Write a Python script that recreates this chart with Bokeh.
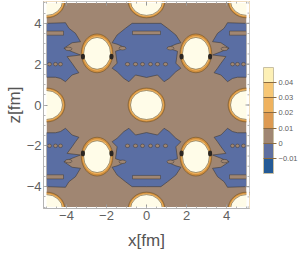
from bokeh.plotting import figure
from bokeh.models import Range1d, ColorBar, LinearColorMapper, FixedTicker
from bokeh.embed import file_html
from bokeh.resources import INLINE

# Blue (below zero) region of the upper-left cell
left_x = [-5, -4.05, -3.88, -3.55, -3.3, -3.72, -4.13, -3.72, -3.3, -3.97, -3.72, -3.55, -3.38, -3.72, -4.05, -4.3, -4.55, -5]
left_z = [4.0, 4.03, 3.76, 3.51, 3.1, 3.05, 2.78, 2.61, 2.45, 2.37, 2.04, 1.8, 1.58, 1.47, 1.14, 1.3, 1.36, 1.36]
# Left half of the central blue region
centre_x = [0, -0.72, -1.05, -1.47, -1.72, -1.47, -1.05, -1.55, -1.47, -1.72, -1.47, -1.13, -0.88, -0.55, 0]
centre_z = [4.0, 4.0, 3.76, 3.43, 3.05, 2.98, 2.8, 2.63, 2.05, 1.8, 1.63, 1.3, 1.14, 1.47, 1.35]
# Brown stripes inside the blue regions: x from, x to, z from, z to
stripe_x0 = [-5, -0.7]
stripe_x1 = [-4.15, 0.7]
stripe_z0 = [3.42, 3.45]
stripe_z1 = [3.62, 3.62]
# Brown spots inside the blue regions
spot_x = [-4.85, -4.55, -4.3, -0.55, -0.2, 0.95, -3.9, -1.2]
spot_z = [2.0, 2.0, 2.0, 2.0, 2.0, 2.0, 2.75, 2.78]
spot_w = [0.2, 0.2, 0.2, 0.22, 0.2, 0.22, 0.35, 0.35]
# Dark clustered contours on the flanks of the peaks
speck_x = [-3.18, -1.75]
speck_z = [2.37, 2.37]
# Rings around the (+-2.5, +-2.5) peaks
peak_x = [-2.47, 2.47, -2.47, 2.47]
peak_z = [2.53, 2.53, -2.53, -2.53]
# Discs on the cell corners
disc_x = [-5, 0, 5, -5, 0, 5, -5, 0, 5]
disc_z = [5.1, 5.1, 5.1, 0, 0, 0, -5.1, -5.1, -5.1]
# Colour bar
levels_low = -0.02
levels_high = 0.05
bar_ticks = [-0.01, 0, 0.01, 0.02, 0.03, 0.04]
bar_labels = ["\u22120.01", "0", "0.01", "0.02", "0.03", "0.04"]
bar_colors = ["#245A96", "#5E6FA0", "#A08672", "#DD9A52", "#EFB25E", "#F7C775", "#FDF0B6"]
axis_ticks = [-4, -2, 0, 2, 4]
minor_ticks = [-5, -4.5, -4, -3.5, -3, -2.5, -2, -1.5, -1, -0.5, 0, 0.5, 1, 1.5, 2, 2.5, 3, 3.5, 4, 4.5, 5]

BROWN, BLUE, DARK, MID, CREAM = "#A08672", "#5A6EA3", "#D08E3C", "#EFB25E", "#FFFCE8"
EDGE = "#3f3a38"
XL, ZL = 5.15, 5.07

p = figure(width=300, height=253, output_backend="svg", toolbar_location=None,
           x_range=Range1d(-XL, XL), y_range=Range1d(-ZL, ZL),
           min_border_left=43, min_border_right=51, min_border_top=1, min_border_bottom=45,
           background_fill_color="white", outline_line_color="#b4b4b4")
p.grid.visible = False

p.quad(left=[-5], right=[5], bottom=[-5], top=[5], fill_color=BROWN, line_color=None)

xs, zs = [], []
for sz in (1, -1):
    for sx in (1, -1):
        xs.append([sx * v for v in left_x])
        zs.append([sz * v for v in left_z])
    xs.append(centre_x + [-v for v in reversed(centre_x)])
    zs.append([sz * v for v in centre_z] + [sz * v for v in reversed(centre_z)])
p.patches(xs, zs, fill_color=BLUE, line_color=EDGE, line_width=0.6)

sx0, sx1, sz0, sz1 = [], [], [], []
for sz in (1, -1):
    for a, b, c, d in zip(stripe_x0, stripe_x1, stripe_z0, stripe_z1):
        for sx in ((1, -1) if a < -1 else (1,)):
            sx0.append(sx * a); sx1.append(sx * b)
            sz0.append(sz * c); sz1.append(sz * d)
p.quad(left=sx0, right=sx1, bottom=sz0, top=sz1, fill_color=BROWN, line_color=EDGE, line_width=0.5)

ex, ez, ew = [], [], []
for sz in (1, -1):
    for sx in (1, -1):
        for a, b, w in zip(spot_x, spot_z, spot_w):
            ex.append(sx * a); ez.append(sz * b); ew.append(w)
p.ellipse(ex, ez, width=ew, height=0.17, fill_color=BROWN, line_color=EDGE, line_width=0.5)

# rings and discs, lowest contour band first
p.ellipse(peak_x, peak_z, width=1.58, height=1.9, fill_color=DARK, line_color="#7a5a30", line_width=0.7)
p.ellipse(peak_x, peak_z, width=1.44, height=1.7, fill_color=MID, line_color=None)
p.ellipse(peak_x, peak_z, width=1.34, height=1.56, fill_color=CREAM, line_color="#6b5a3a", line_width=0.6)
p.ellipse(disc_x, disc_z, width=1.84, height=1.66, fill_color=DARK, line_color="#7a5a30", line_width=0.7)
p.ellipse(disc_x, disc_z, width=1.72, height=1.54, fill_color=MID, line_color=None)
p.ellipse(disc_x, disc_z, width=1.6, height=1.42, fill_color=CREAM, line_color="#6b5a3a", line_width=0.6)

kx, kz = [], []
for sz in (1, -1):
    for sx in (1, -1):
        for a, b in zip(speck_x, speck_z):
            kx.append(sx * a); kz.append(sz * b)
p.ellipse(kx, kz, width=0.2, height=0.28, fill_color="#2b2622", line_color=None)

# white margin between the data square and the frame
p.quad(left=[-XL, 5, -XL, -XL], right=[-5, XL, XL, XL],
       bottom=[-ZL, -ZL, 5, -ZL], top=[ZL, ZL, ZL, -5],
       fill_color="white", line_color=None)

# inward ticks on the top and right of the frame, at the same tick positions
for vals, length, col in ((minor_ticks, 0.1, "#b4b4b4"), (axis_ticks, 0.2, "#9a9a9a")):
    p.segment(vals, [ZL] * len(vals), vals, [ZL - length] * len(vals), line_color=col, line_width=1)
    p.segment([XL] * len(vals), vals, [XL - length] * len(vals), vals, line_color=col, line_width=1)

for ax in (p.xaxis[0], p.yaxis[0]):
    ax.ticker = FixedTicker(ticks=axis_ticks, minor_ticks=minor_ticks)
    ax.axis_line_color = "#b4b4b4"
    ax.major_tick_line_color = "#9a9a9a"
    ax.minor_tick_line_color = "#b4b4b4"
    ax.major_tick_in = 4
    ax.major_tick_out = 0
    ax.minor_tick_in = 2
    ax.minor_tick_out = 0
    ax.major_label_text_font = "Liberation Sans"
    ax.major_label_text_font_size = "13px"
    ax.major_label_text_color = "#606060"
    ax.major_label_standoff = 2
    ax.axis_label_text_font = "Liberation Sans"
    ax.axis_label_text_font_size = "17px"
    ax.axis_label_text_font_style = "normal"
    ax.axis_label_text_color = "#555555"
    ax.axis_label_standoff = 0
p.xaxis.axis_label = "x[fm]"
p.yaxis.axis_label = "z[fm]"
p.xaxis[0].axis_label_standoff = 8

cb = ColorBar(color_mapper=LinearColorMapper(palette=bar_colors, low=levels_low, high=levels_high),
              ticker=FixedTicker(ticks=bar_ticks),
              major_label_overrides=dict(zip(bar_ticks, bar_labels)),
              width=10, height=106, padding=0, margin=0, location=(220, 35),
              bar_line_color="#c8c0a4", major_tick_line_color="#8a6a40",
              major_tick_in=10, major_tick_out=3, minor_tick_line_color=None,
              major_label_text_font="Liberation Sans", major_label_text_font_size="7.5px",
              major_label_text_color="#606060", label_standoff=2,
              background_fill_color=None, border_line_color=None)
p.add_layout(cb)

open("out.html", "w").write(file_html(p, INLINE))
